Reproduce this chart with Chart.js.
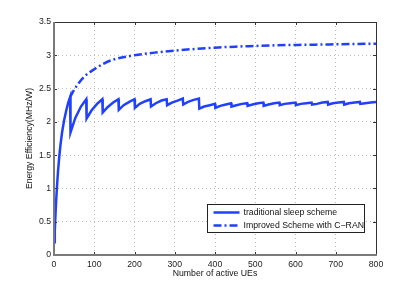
<!DOCTYPE html>
<html>
<head>
<meta charset="utf-8">
<script src="https://cdn.jsdelivr.net/npm/chart.js@4"></script>
<style>
  html, body { margin: 0; padding: 0; background: #fff; }
  #wrap { width: 415px; height: 288px; }
</style>
</head>
<body>
<div id="wrap"><canvas id="c"></canvas></div>
<script>
// values
const traditionalUE = [
  1, 2, 4, 6, 8, 10, 13, 16, 20, 25, 30, 35, 40,
  41, 53, 67, 80,
  81, 93, 107, 120,
  121, 133, 147, 160,
  161, 173, 187, 200,
  201, 213, 227, 240,
  241, 253, 267, 280,
  281, 293, 307, 320,
  321, 333, 347, 360,
  361, 373, 387, 400,
  401, 413, 427, 440,
  441, 453, 467, 480,
  481, 493, 507, 520,
  521, 533, 547, 560,
  561, 573, 587, 600,
  601, 613, 627, 640,
  641, 653, 667, 680,
  681, 693, 707, 720,
  721, 733, 747, 760,
  761, 773, 787, 800,
];
const traditionalEE = [
  0.19, 0.36, 0.65, 0.88, 1.08, 1.26, 1.47, 1.65, 1.84, 2.02, 2.16, 2.28, 2.37,
  1.84, 2.06, 2.23, 2.34,
  2.05, 2.17, 2.27, 2.34,
  2.14, 2.22, 2.29, 2.34,
  2.18, 2.25, 2.30, 2.34,
  2.21, 2.27, 2.31, 2.34,
  2.23, 2.28, 2.32, 2.34,
  2.25, 2.29, 2.32, 2.35,
  2.26, 2.30, 2.33, 2.35,
  2.20, 2.23, 2.25, 2.27,
  2.21, 2.24, 2.26, 2.28,
  2.23, 2.25, 2.27, 2.28,
  2.24, 2.26, 2.28, 2.29,
  2.24, 2.26, 2.28, 2.29,
  2.25, 2.27, 2.28, 2.29,
  2.25, 2.27, 2.28, 2.29,
  2.26, 2.27, 2.29, 2.30,
  2.26, 2.28, 2.29, 2.30,
  2.26, 2.28, 2.29, 2.30,
  2.27, 2.28, 2.29, 2.30,
];

const improvedUE = [40, 50, 60, 75, 100, 125, 150, 200, 250, 300, 350, 400, 450, 500, 550, 600, 650, 700, 750, 800];
const improvedEE = [2.37, 2.48, 2.57, 2.68, 2.79, 2.88, 2.94, 3.00, 3.04, 3.07, 3.095, 3.115, 3.13, 3.14, 3.15, 3.155, 3.16, 3.165, 3.17, 3.175];

const xTicks = [0, 100, 200, 300, 400, 500, 600, 700, 800];
const yTicks = [0, 0.5, 1, 1.5, 2, 2.5, 3, 3.5];

const seriesNames = ['traditional sleep scheme', 'Improved Scheme with C\u2212RAN'];
const xTitle = 'Number of active UEs';
const yTitle = 'Energy Efficiency(MHz/W)';

const BLUE = '#2040ff';
const FONT = { family: '"Liberation Sans", Arial, sans-serif', size: 8.7 };

const toPoints = (xs, ys) => xs.map((x, i) => ({ x, y: ys[i] }));

// MATLAB style box, inward ticks and the legend inside the axes
const matlabAxes = {
  id: 'matlabAxes',
  afterDatasetsDraw(chart) {
    const { ctx, chartArea: a, scales } = chart;
    ctx.save();

    // inward tick marks
    ctx.strokeStyle = '#333';
    ctx.lineWidth = 1;
    ctx.beginPath();
    for (const v of xTicks) {
      const px = Math.round(scales.x.getPixelForValue(v)) + 0.5;
      ctx.moveTo(px, a.bottom); ctx.lineTo(px, a.bottom - 3);
      ctx.moveTo(px, a.top); ctx.lineTo(px, a.top + 3);
    }
    for (const v of yTicks) {
      const py = Math.round(scales.y.getPixelForValue(v)) + 0.5;
      ctx.moveTo(a.left, py); ctx.lineTo(a.left + 3, py);
      ctx.moveTo(a.right, py); ctx.lineTo(a.right - 3, py);
    }
    ctx.stroke();

    // top / right thin frame
    ctx.beginPath();
    ctx.moveTo(a.left, a.top + 0.5); ctx.lineTo(a.right + 0.5, a.top + 0.5);
    ctx.lineTo(a.right + 0.5, a.bottom);
    ctx.stroke();

    // left / bottom axis lines
    ctx.strokeStyle = '#7a7a7a';
    ctx.lineWidth = 2;
    ctx.beginPath();
    ctx.moveTo(a.left, a.top); ctx.lineTo(a.left, a.bottom);
    ctx.lineTo(a.right + 1, a.bottom);
    ctx.stroke();

    // legend
    const bx = 207.5, by = 204.5, bw = 157, bh = 28;
    ctx.fillStyle = '#fff';
    ctx.fillRect(bx, by, bw, bh);
    ctx.strokeStyle = '#222';
    ctx.lineWidth = 1;
    ctx.strokeRect(bx, by, bw, bh);

    ctx.font = `${FONT.size}px ${FONT.family}`;
    ctx.textBaseline = 'middle';
    ctx.textAlign = 'left';
    chart.data.datasets.forEach((ds, i) => {
      const y = by + 8 + i * 13;
      ctx.strokeStyle = ds.borderColor;
      ctx.lineWidth = ds.borderWidth;
      ctx.setLineDash(ds.borderDash || []);
      ctx.beginPath();
      ctx.moveTo(bx + 6, y); ctx.lineTo(bx + 32, y);
      ctx.stroke();
      ctx.setLineDash([]);
      ctx.fillStyle = '#111';
      ctx.fillText(ds.label, bx + 36, y + 0.5);
    });

    ctx.restore();
  },
};

new Chart(document.getElementById('c'), {
  type: 'line',
  data: {
    datasets: [
      {
        label: seriesNames[0],
        data: toPoints(traditionalUE, traditionalEE),
        borderColor: BLUE,
        borderWidth: 2.5,
        pointRadius: 0,
        tension: 0,
        fill: false,
      },
      {
        label: seriesNames[1],
        data: toPoints(improvedUE, improvedEE),
        borderColor: BLUE,
        borderWidth: 2.5,
        borderDash: [8, 3, 2, 3],
        pointRadius: 0,
        cubicInterpolationMode: 'monotone',
        fill: false,
      },
    ],
  },
  options: {
    responsive: true,
    maintainAspectRatio: false,
    animation: false,
    layout: { padding: { top: 22, right: 39, left: 0, bottom: 0 } },
    plugins: {
      legend: { display: false },
      tooltip: { enabled: false },
    },
    scales: {
      x: {
        type: 'linear',
        min: 0,
        max: 800,
        afterBuildTicks: (s) => { s.ticks = xTicks.map((v) => ({ value: v })); },
        afterFit: (s) => { s.height = 33; },
        ticks: { font: FONT, color: '#222', padding: 4, maxRotation: 0, callback: (v) => String(v) },
        grid: { color: '#bdbdbd', drawTicks: false, lineWidth: 1 },
        border: { display: false, dash: [1, 3] },
        title: { display: true, text: xTitle, font: FONT, color: '#111', padding: { top: 0, bottom: 9 } },
      },
      y: {
        type: 'linear',
        min: 0,
        max: 3.5,
        afterBuildTicks: (s) => { s.ticks = yTicks.map((v) => ({ value: v })); },
        afterFit: (s) => { s.width = 54; },
        ticks: { font: FONT, color: '#222', padding: 3, callback: (v) => String(v) },
        grid: { color: '#bdbdbd', drawTicks: false, lineWidth: 1 },
        border: { display: false, dash: [1, 3] },
        title: { display: true, text: yTitle, font: FONT, color: '#111', padding: { top: 24, bottom: 0 } },
      },
    },
  },
  plugins: [matlabAxes],
});
</script>
</body>
</html>
